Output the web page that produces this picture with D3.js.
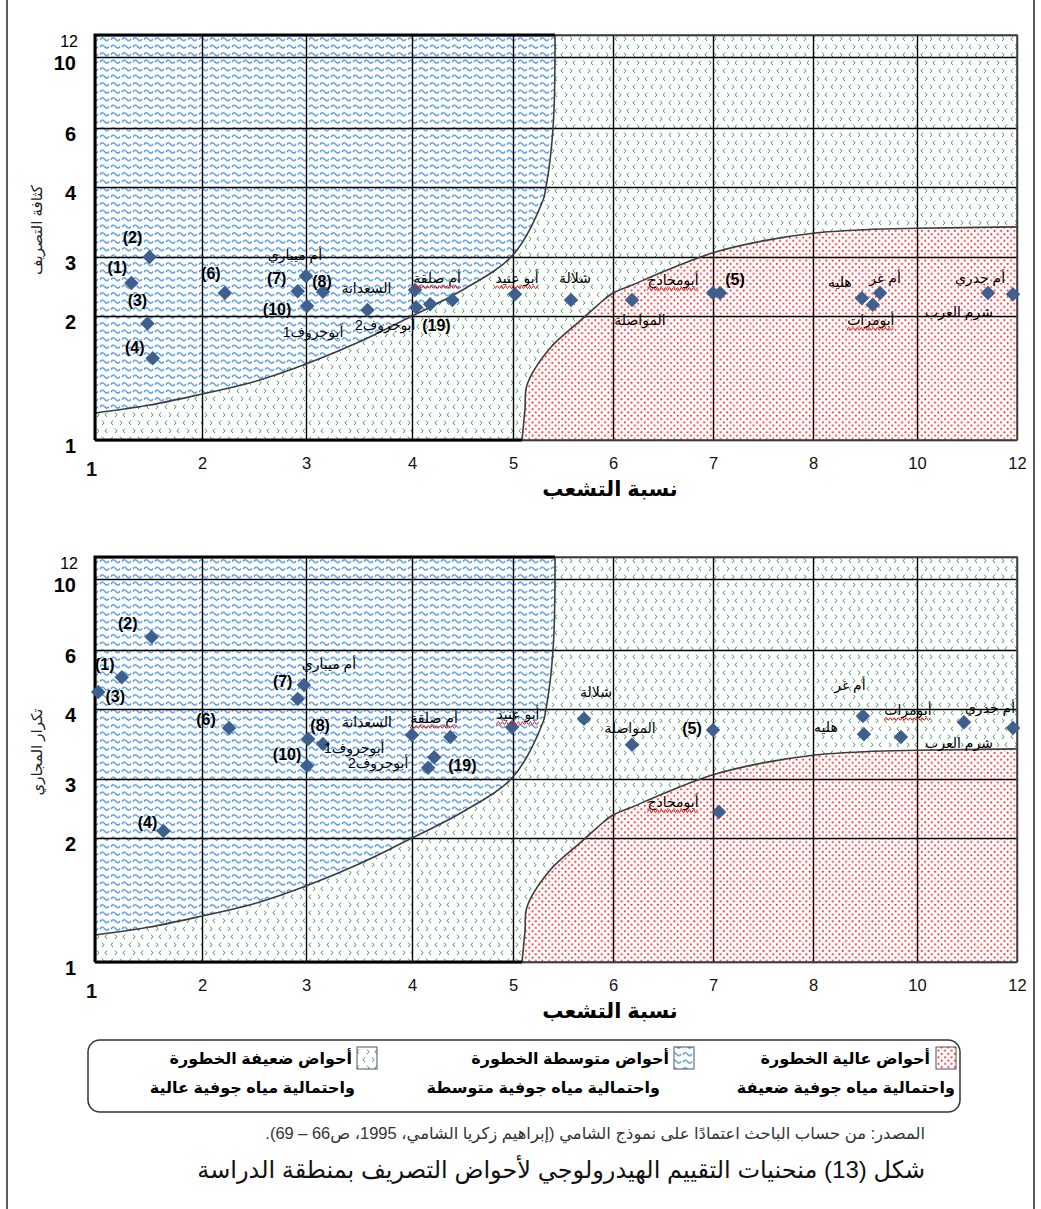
<!DOCTYPE html>
<html>
<head>
<meta charset="utf-8">
<script src="https://cdn.jsdelivr.net/npm/d3@7"></script>
<style>
  body { margin: 0; background: #fff; }
  svg text { font-family: "Liberation Sans", Arial, "DejaVu Sans", sans-serif; }
</style>
</head>
<body>
<svg id="chart" width="1041" height="1209"></svg>
<script>
// ---- axis ticks ----
const xTicks = [1, 2, 3, 4, 5, 6, 7, 8, 10, 12];
const yTicks = [1, 2, 3, 4, 6, 10, 12];

// ---- basins ----
const basins = ["(1)", "(2)", "(3)", "(4)", "(5)", "(6)", "(7)", "(8)", "(10)", "(19)",
  "أم ميباري", "السعدانة", "أبوجروف1", "أبوجروف2", "أم صلقة", "أبو عنيد", "شلالة",
  "المواصلة", "أبومحادج", "أم غر", "هليه", "أبومرات", "أم جدري", "شرم العرب"];
// names carrying a red proofing squiggle
const squiggled = ["أم صلقة", "أبو عنيد", "أبومحادج", "أبومرات"];

// panel 1: bifurcation ratio vs drainage density
const ratioA   = [1.34, 1.51, 1.49, 1.54, 7.07, 2.22, 2.92, 3.16, 3.01, 4.40,
  3.00, 3.58, 4.04, 4.18, 4.03, 5.02, 5.58, 6.19, 7.00, 9.29, 8.94, 9.15, 11.92, 11.42];
const densityA = [2.56, 3.00, 1.94, 1.66, 2.39, 2.39, 2.42, 2.41, 2.17, 2.27,
  2.68, 2.10, 2.15, 2.20, 2.44, 2.37, 2.27, 2.27, 2.39, 2.39, 2.30, 2.19, 2.37, 2.39];

// panel 2: bifurcation ratio vs stream frequency
const ratioB     = [1.25, 1.53, 1.03, 1.64, 7.00, 2.26, 2.92, 3.02, 3.01, 4.38,
  2.98, 3.16, 4.22, 4.16, 4.00, 4.99, 5.71, 6.19, 7.06, 8.96, 8.98, 9.69, 10.94, 11.92];
const frequencyB = [5.08, 6.73, 4.58, 2.12, 3.70, 3.73, 4.34, 3.57, 3.19, 3.60,
  4.81, 3.50, 3.31, 3.16, 3.63, 3.74, 3.86, 3.49, 2.44, 3.90, 3.64, 3.60, 3.81, 3.73];

// ---- model boundary curves ----
const mediumCurveX = [1, 1.5, 2, 2.5, 3, 3.5, 4, 4.5, 5, 5.3, 5.33, 5.38, 5.41, 5.42, 5.42];
const mediumCurveY = [1.218, 1.28, 1.371, 1.47, 1.613, 1.79, 2.0, 2.44, 3.03, 3.81, 4.0, 5.2, 7, 10, 12];
const highCurveX = [5.09, 5.12, 5.14, 5.37, 5.67, 5.85, 6.0, 6.2, 6.5, 7.0, 7.5, 8, 9, 10, 12];
const highCurveY = [1.0, 1.25, 1.444, 1.74, 1.96, 2.19, 2.39, 2.53, 2.75, 3.06, 3.23, 3.34, 3.39, 3.41, 3.43];

// ---- text ----
const xTitle = "نسبة التشعب";
const yTitles = ["كثافة التصريف", "تكرار المجاري"];
const legendLine1 = ["أحواض عالية الخطورة", "أحواض متوسطة الخطورة", "أحواض ضعيفة الخطورة"];
const legendLine2 = ["واحتمالية مياه جوفية ضعيفة", "واحتمالية مياه جوفية متوسطة", "واحتمالية مياه جوفية عالية"];
const sourceText = "المصدر: من حساب الباحث اعتمادًا على نموذج الشامي (إبراهيم زكريا الشامي، 1995، ص66 – 69).";
const figureTitle = "شكل (13) منحنيات التقييم الهيدرولوجي لأحواض التصريف بمنطقة الدراسة";

// ---- label placement (pixel offsets from each marker) ----
const labelOffsetA = [[-14,-15],[-17,-20],[-10,-23],[-18,-11],[15,-13],[-14,-19],[-21,-13],[-1,-10],[-30,4],[-16,25],
  [-11,-21],[-1,-22],[-103,25],[-45,21],[22,-12],[2,-16],[4,-22],[8,20],[-40,-13],[5,-15],[-22,-16],[-2,15],[-33,-16],[-29,19]];
const labelOffsetB = [[-17,-13],[-24,-14],[17,5],[-16,-8],[-21,-2],[-23,-8],[-15,-17],[12,-14],[-20,-11],[12,28],
  [25,-21],[44,-22],[-80,-9],[-50,-5],[22,-17],[6,-13],[12,-27],[-2,-17],[-46,-10],[-13,-31],[-38,-7],[7,-27],[26,-14],[-54,15]];

// ---- layout ----
const svg = d3.select("#chart");
const plotH = 405;
const xStops = [95, 202, 306, 412, 513, 613, 713, 813, 917, 1017];
const yStops = [405, 281, 222, 152, 93, 22, 0];
const x = d3.scaleLinear().domain(xTicks).range(xStops);
const y = d3.scaleLinear().domain(yTicks).range(yStops);
const plotL = x(1), plotR = x(12), plotW = plotR - plotL;

// ---- fill patterns ----
const defs = svg.append("defs");
const waves = defs.append("pattern").attr("id", "waves").attr("patternUnits", "userSpaceOnUse")
  .attr("width", 11).attr("height", 7.5);
waves.append("rect").attr("width", 11).attr("height", 7.5).attr("fill", "#fff");
waves.append("path").attr("d", "M1,4.6 Q3.2,1.2 5.5,4.2 T10,4.2")
  .attr("fill", "none").attr("stroke", "#2f86dc").attr("stroke-width", 1.2);

const divots = defs.append("pattern").attr("id", "divots").attr("patternUnits", "userSpaceOnUse")
  .attr("width", 18).attr("height", 16);
divots.append("rect").attr("width", 18).attr("height", 16).attr("fill", "#fff");
divots.append("path")
  .attr("d", "M5,1.5 L3,3.8 L5,6 M12,1.5 L14,3.8 L12,6 M7,9.5 L9,11.8 L7,14 M17,9.5 L15,11.8 L17,14")
  .attr("fill", "none").attr("stroke", "#37a05a").attr("stroke-width", 1);

const dots = defs.append("pattern").attr("id", "dots").attr("patternUnits", "userSpaceOnUse")
  .attr("width", 6.6).attr("height", 6.6);
dots.append("rect").attr("width", 6.6).attr("height", 6.6).attr("fill", "#fff");
dots.append("circle").attr("cx", 1.2).attr("cy", 1.2).attr("r", 1.05).attr("fill", "#ff1a1a");
dots.append("circle").attr("cx", 4.5).attr("cy", 4.5).attr("r", 1.05).attr("fill", "#ff1a1a");

const curveLine = d3.line().x(d => x(d[0])).y(d => y(d[1])).curve(d3.curveCatmullRom.alpha(0.5));
const mediumPts = mediumCurveX.map((v, i) => [v, mediumCurveY[i]]);
const highPts = highCurveX.map((v, i) => [v, highCurveY[i]]);

function squiggle(g, x1, x2, yy) {
  const pts = d3.range(x1, x2 + 0.1, 2).map((px, i) => [px, yy + (i % 2 ? -1.4 : 1.4)]);
  g.append("path").attr("d", d3.line().curve(d3.curveNatural)(pts))
    .attr("fill", "none").attr("stroke", "#e01010").attr("stroke-width", 1);
}

// shrink or grow a text so its drawn width matches a target
function fitWidth(sel, target) {
  const w = sel.node().getComputedTextLength();
  const fs = parseFloat(sel.attr("font-size"));
  sel.attr("font-size", (fs * target / w).toFixed(2));
}

function drawPanel(top, xs, ys, offsets, yTitle, id) {
  const g = svg.append("g").attr("transform", `translate(0,${top})`);

  g.append("clipPath").attr("id", id).append("rect")
    .attr("x", plotL).attr("y", 0).attr("width", plotW).attr("height", plotH);
  const regions = g.append("g").attr("clip-path", `url(#${id})`);
  regions.append("rect").attr("x", plotL).attr("y", 0).attr("width", plotW).attr("height", plotH)
    .attr("fill", "url(#divots)");
  const mLast = mediumPts[mediumPts.length - 1];
  regions.append("path")
    .attr("d", curveLine(mediumPts) + `L${x(mLast[0])},${y(12)}L${x(1)},${y(12)}Z`)
    .attr("fill", "url(#waves)");
  regions.append("path")
    .attr("d", curveLine(highPts) + `L${x(12)},${y(1)}Z`)
    .attr("fill", "url(#dots)");

  // grid via axes
  const gx = g.append("g").attr("transform", `translate(0,${plotH})`)
    .call(d3.axisBottom(x).tickValues(xTicks).tickSize(-plotH).tickPadding(17).tickFormat(d3.format("d")));
  gx.select(".domain").remove();
  gx.selectAll(".tick line").attr("stroke", "#000").attr("stroke-width", 1.4);
  gx.selectAll(".tick text").attr("fill", "#111").attr("font-size", 16.5)
    .filter(d => d === 1).attr("font-size", 20).attr("font-weight", "bold").attr("dx", -4).attr("dy", "0.95em");

  const gy = g.append("g").attr("transform", `translate(${plotL},0)`)
    .call(d3.axisLeft(y).tickValues(yTicks).tickSize(-plotW).tickPadding(19).tickFormat(d3.format("d")));
  gy.select(".domain").remove();
  gy.selectAll(".tick line").attr("stroke", "#000").attr("stroke-width", 1.4);
  gy.selectAll(".tick text").attr("fill", "#000").attr("font-size", 20).attr("font-weight", "bold")
    .attr("y", 6);
  gy.selectAll(".tick text").filter(d => d === 12).attr("font-size", 16).attr("font-weight", "normal")
    .attr("y", 6).attr("dx", 2);

  // boundary curves
  g.append("path").attr("d", curveLine(mediumPts)).attr("fill", "none")
    .attr("stroke", "#3d3d3d").attr("stroke-width", 1.6);
  g.append("path").attr("d", curveLine(highPts)).attr("fill", "none")
    .attr("stroke", "#3d3d3d").attr("stroke-width", 1.6);

  // frame
  g.append("rect").attr("x", plotL).attr("y", 0).attr("width", plotW).attr("height", plotH)
    .attr("fill", "none").attr("stroke", "#4a4a4a").attr("stroke-width", 1.6);
  g.append("path").attr("d", `M${x(1)},${y(1)}V${y(12)}H${x(mLast[0])}`)
    .attr("fill", "none").attr("stroke", "#000").attr("stroke-width", 3);
  g.append("path").attr("d", `M${x(1)},${y(1)}H${x(highPts[0][0])}`)
    .attr("fill", "none").attr("stroke", "#000").attr("stroke-width", 3);

  // markers
  const pts = basins.map((name, i) => ({ name, vx: xs[i], vy: ys[i], off: offsets[i] }));
  g.selectAll(".mark").data(pts).join("path").attr("class", "mark")
    .attr("transform", d => `translate(${x(d.vx)},${y(d.vy)}) rotate(45)`)
    .attr("d", d3.symbol(d3.symbolSquare, 105)())
    .attr("fill", "#3f5f8e");

  // labels
  const labels = g.selectAll(".lbl").data(pts).join("text").attr("class", "lbl")
    .attr("x", d => x(d.vx) + d.off[0])
    .attr("y", d => y(d.vy) + d.off[1])
    .attr("text-anchor", "middle")
    .attr("dominant-baseline", "central")
    .attr("font-size", d => d.name.startsWith("(") ? 16 : 14)
    .attr("font-weight", d => d.name.startsWith("(") ? "bold" : "normal")
    .attr("fill", "#000")
    .text(d => d.name);
  labels.filter(d => squiggled.includes(d.name)).each(function (d) {
    const b = this.getBBox();
    squiggle(g, b.x, b.x + b.width, y(d.vy) + d.off[1] + 9);
  });

  // axis titles
  g.append("text").attr("x", 610).attr("y", 461).attr("text-anchor", "middle")
    .attr("font-size", 21).attr("font-weight", "bold").attr("fill", "#000").text(xTitle);
  g.append("text").attr("transform", `translate(42,${195}) rotate(-90)`).attr("text-anchor", "middle")
    .attr("font-size", 15).attr("fill", "#222").text(yTitle);
}

drawPanel(35, ratioA, densityA, labelOffsetA, yTitles[0], "clipA");
drawPanel(557, ratioB, frequencyB, labelOffsetB, yTitles[1], "clipB");

// outer frame
svg.append("line").attr("x1", 7).attr("x2", 7).attr("y1", 0).attr("y2", 1209)
  .attr("stroke", "#222").attr("stroke-width", 1.5);
svg.append("line").attr("x1", 1034).attr("x2", 1034).attr("y1", 0).attr("y2", 1209)
  .attr("stroke", "#222").attr("stroke-width", 1.5);

// legend
svg.append("rect").attr("x", 88).attr("y", 1040).attr("width", 872).attr("height", 72).attr("rx", 12)
  .attr("fill", "#fff").attr("stroke", "#333").attr("stroke-width", 1.5);
const legendFills = ["url(#dots)", "url(#waves)", "url(#divots)"];
const swatchX = [936, 674, 357];
const line1Right = [930, 669, 352];
const line2Right = [955, 660, 355];
legendFills.forEach((f, i) => {
  svg.append("rect").attr("x", swatchX[i]).attr("y", 1047).attr("width", 20).attr("height", 22)
    .attr("fill", f).attr("stroke", "#555").attr("stroke-width", 1);
  svg.append("text").attr("x", line1Right[i]).attr("y", 1064).attr("direction", "rtl").attr("text-anchor", "start")
    .attr("font-size", 16).attr("font-weight", "bold").attr("fill", "#000").text(legendLine1[i]);
  svg.append("text").attr("x", line2Right[i]).attr("y", 1093).attr("direction", "rtl").attr("text-anchor", "start")
    .attr("font-size", 16).attr("font-weight", "bold").attr("fill", "#000").text(legendLine2[i]);
});

const src = svg.append("text").attr("x", 925).attr("y", 1139).attr("direction", "rtl").attr("text-anchor", "start")
  .attr("font-size", 13).attr("fill", "#333").text(sourceText);
fitWidth(src, 660);
const ttl = svg.append("text").attr("x", 925).attr("y", 1178).attr("direction", "rtl").attr("text-anchor", "start")
  .attr("font-size", 21).attr("fill", "#111").text(figureTitle);
fitWidth(ttl, 728);
</script>
</body>
</html>
